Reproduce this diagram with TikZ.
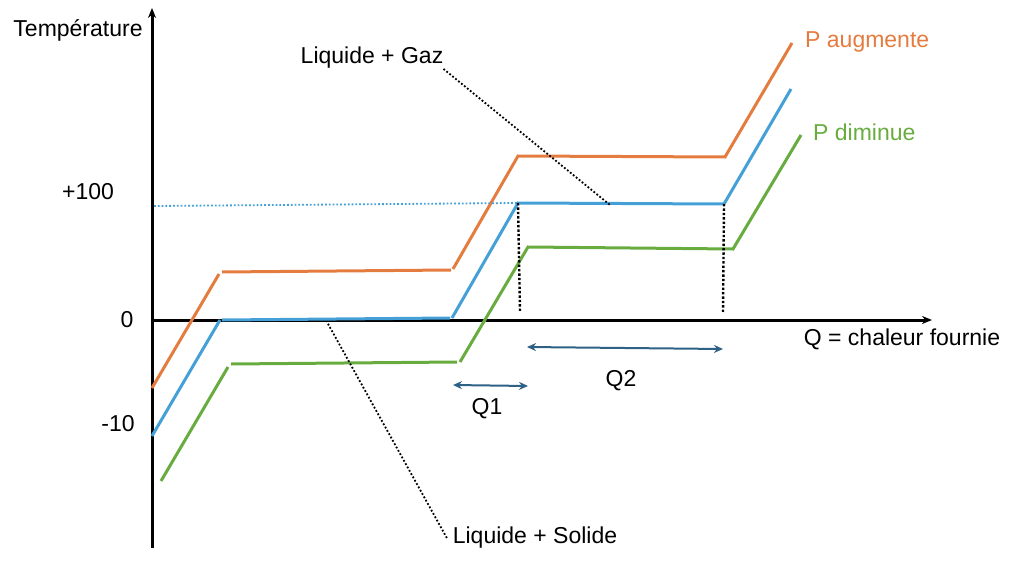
\documentclass[tikz,border=0pt]{standalone}
\usepackage{fontspec}
\setmainfont{Liberation Sans}
\usetikzlibrary{arrows.meta}
\definecolor{porange}{HTML}{E57C3F}
\definecolor{pblue}{HTML}{45A0D8}
\definecolor{pgreen}{HTML}{68AC40}
\definecolor{qarrow}{HTML}{2E6186}
\begin{document}
\begin{tikzpicture}[x=1pt, y=-1pt,
	axis/.style={line width=3pt, -{Stealth[length=10pt, width=8pt]}},
	curve/.style={line width=3pt},
	leader/.style={line width=1.8pt, dotted},
	span/.style={line width=2pt, draw=qarrow, {Stealth[length=9pt, width=8pt]}-{Stealth[length=9pt, width=8pt]}},
	lbl/.style={font=\fontsize{23}{27}\selectfont, inner sep=0pt}]
	\useasboundingbox (0,0) rectangle (1024,564);
	% axes
	\coordinate (O) at (152,320);
	\coordinate (ybot) at (152,548);
	\coordinate (ytop) at (152,8);
	\coordinate (xend) at (932,320);
	\draw[axis] (ybot)--(ytop);
	\draw[axis] (O)--(xend);
	\node[lbl] at (78,30) (temp) {Température};
	\node[lbl] at (902,339) (chaleur) {Q = chaleur fournie};
	\node[lbl] at (88,192) (t100) {+100};
	\node[lbl] at (127,320) (t0) {0};
	\node[lbl] at (118,424) (t10) {-10};
	% orange: P augmente
	\coordinate (o1) at (152,388); \coordinate (o2) at (219,274);
	\coordinate (o3) at (222,272); \coordinate (o4) at (451,270);
	\coordinate (o5) at (453,269); \coordinate (o6) at (518,156);
	\coordinate (o7) at (725,157); \coordinate (o8) at (792,43);
	\draw[curve, porange] (o1)--(o2) (o3)--(o4) (o5)--(o6)--(o7)--(o8);
	% blue
	\coordinate (b1) at (152,436); \coordinate (b2) at (220,320);
	\coordinate (b3) at (222,320); \coordinate (b4) at (450,318);
	\coordinate (b5) at (452,318); \coordinate (b6) at (518,203);
	\coordinate (b7) at (724,204); \coordinate (b8) at (791,89);
	\draw[curve, pblue] (b1)--(b2) (b3)--(b4) (b5)--(b6)--(b7)--(b8);
	% green: P diminue
	\coordinate (g1) at (161,481); \coordinate (g2) at (228,367);
	\coordinate (g3) at (231,364); \coordinate (g4) at (457,362);
	\coordinate (g5) at (460,362); \coordinate (g6) at (528,247);
	\coordinate (g7) at (733,249); \coordinate (g8) at (801,135);
	\draw[curve, pgreen] (g1)--(g2) (g3)--(g4) (g5)--(g6)--(g7)--(g8);
	\node[lbl, text=porange, anchor=west] at (805,42) (paug) {P augmente};
	\node[lbl, text=pgreen, anchor=west] at (813,132) (pdim) {P diminue};
	% +100 level
	\coordinate (h100) at (154,206);
	\draw[pblue, line width=1.8pt, dotted] (h100)--(b6);
	% boiling limits
	\coordinate (d1) at (520,312); \coordinate (d2) at (723,312);
	\draw[line width=2.4pt, dotted] (b6)--(d1) (b7)--(d2);
	% Q1 and Q2
	\coordinate (q1a) at (453,385); \coordinate (q1b) at (528,386);
	\coordinate (q2a) at (527,347); \coordinate (q2b) at (723,349);
	\draw[span] (q1a)--(q1b);
	\draw[span] (q2a)--(q2b);
	\node[lbl] at (487,409) (q1) {Q1};
	\node[lbl] at (621,381) (q2) {Q2};
	% phase labels
	\node[lbl] at (372,58) (lg) {Liquide + Gaz};
	\node[lbl, outer sep=6pt] at (535,538) (ls) {Liquide + Solide};
	\coordinate (lgend) at (610,205);
	\coordinate (lsend) at (327,322);
	\draw[leader] (lg.south east)--(lgend);
	\draw[leader] (ls.west)--(lsend);
\end{tikzpicture}
\end{document}
